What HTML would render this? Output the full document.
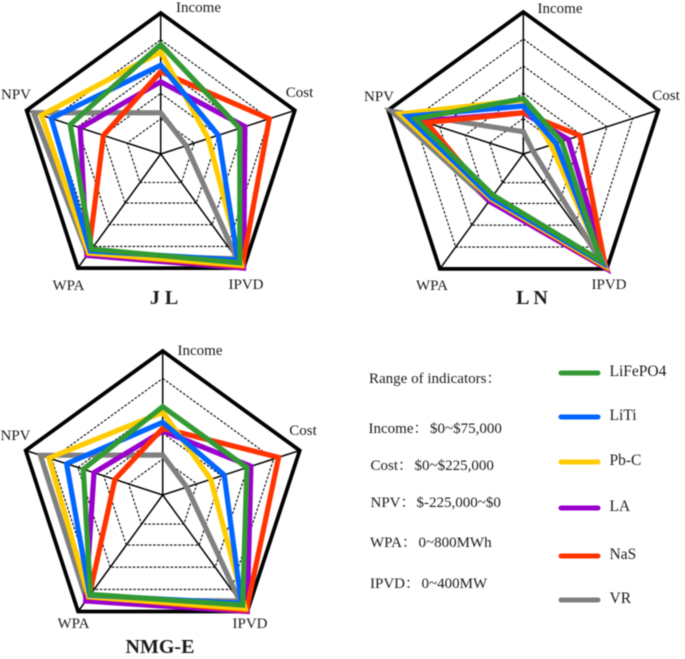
<!DOCTYPE html>
<html lang="en">
<head>
<meta charset="utf-8">
<title>Radar charts of storage technologies</title>
<style>
html,body{margin:0;padding:0;background:#fff;width:685px;height:659px;overflow:hidden}
svg{display:block;filter:blur(0.45px)}
text{font-family:"Liberation Serif","Noto Serif CJK SC",serif;fill:#1a1a1a}
</style>
</head>
<body>
<svg id="root" xmlns="http://www.w3.org/2000/svg" width="685" height="659" viewBox="0 0 685 659">
  <g id="panels"></g>
  <g font-size="15">
    <text x="369" y="383">Range of indicators：</text>
    <text x="368.5" y="433">Income：<tspan dx="1.5">$0~$75,000</tspan></text>
    <text x="370.5" y="470">Cost：<tspan dx="1.5">$0~$225,000</tspan></text>
    <text x="370.5" y="507">NPV：<tspan dx="1">$-225,000~$0</tspan></text>
    <text x="370" y="547">WPA：<tspan dx="1.5">0~800MWh</tspan></text>
    <text x="370" y="588">IPVD：<tspan dx="1.5">0~400MW</tspan></text>
  </g>
  <g id="legend"></g>
</svg>
<script>
// Axis order, clockwise from the top
const axes = ['Income', 'Cost', 'IPVD', 'WPA', 'NPV'];
const ringLevels = [0.25, 0.43, 0.62, 0.81];

// Normalised scores per axis [Income, Cost, IPVD, WPA, NPV]
const jlLiFePO4 = [0.776, 0.59, 0.955, 0.834, 0.675];
const jlLiTi    = [0.63, 0.43, 0.93, 0.85, 0.816];
const jlPbC     = [0.724, 0.355, 0.975, 0.87, 0.89];
const jlLA      = [0.512, 0.628, 1.0, 0.89, 0.60];
const jlNaS     = [0.583, 0.81, 0.985, 0.87, 0.427];
const jlVR      = [0.292, 0.19, 0.92, 0.88, 0.948];

const lnLiFePO4 = [0.39, 0.284, 0.93, 0.36, 0.80];
const lnLiTi    = [0.338, 0.242, 0.95, 0.38, 0.86];
const lnPbC     = [0.38, 0.205, 0.97, 0.39, 0.914];
const lnLA      = [0.29, 0.333, 1.0, 0.41, 0.753];
const lnNaS     = [0.29, 0.42, 0.985, 0.39, 0.716];
const lnVR      = [0.157, 0.07, 0.92, 0.41, 0.975];

const nmLiFePO4 = [0.613, 0.615, 0.945, 0.853, 0.58];
const nmLiTi    = [0.505, 0.449, 0.93, 0.86, 0.702];
const nmPbC     = [0.574, 0.351, 0.975, 0.875, 0.83];
const nmLA      = [0.444, 0.644, 1.0, 0.91, 0.502];
const nmNaS     = [0.463, 0.846, 0.99, 0.87, 0.349];
const nmVR      = [0.278, 0.176, 0.91, 0.90, 0.893];

const panels = [
  {key:'jl', title:'J L', cx:160.7, cy:154, r:141, tx:164, ty:304,
   series:{LiFePO4:jlLiFePO4, LiTi:jlLiTi, PbC:jlPbC, LA:jlLA, NaS:jlNaS, VR:jlVR},
   lab:[[198.5,12],[299.5,97],[246,289],[68.5,290],[16,99]]},
  {key:'ln', title:'L N', cx:523.3, cy:154, r:142, tx:532, ty:304,
   series:{LiFePO4:lnLiFePO4, LiTi:lnLiTi, PbC:lnPbC, LA:lnLA, NaS:lnNaS, VR:lnVR},
   lab:[[560,13],[666,100],[609,289],[432,290],[379,101]]},
  {key:'nmg-e', title:'NMG-E', cx:162.7, cy:495, r:144, tx:160, ty:653,
   series:{LiFePO4:nmLiFePO4, LiTi:nmLiTi, PbC:nmPbC, LA:nmLA, NaS:nmNaS, VR:nmVR},
   lab:[[200,355],[303,435],[250,628],[73.5,628],[15.5,440]]}
];

const legendNames = ['LiFePO4', 'LiTi', 'Pb-C', 'LA', 'NaS', 'VR'];
const seriesKeys = ['LiFePO4', 'LiTi', 'PbC', 'LA', 'NaS', 'VR'];
const seriesColors = ['#339933', '#0066ff', '#ffcc00', '#9900cc', '#ff3300', '#808080'];
const drawOrder = ['VR', 'LA', 'NaS', 'PbC', 'LiTi', 'LiFePO4'];

const NS = 'http://www.w3.org/2000/svg';
function make(tag, attrs, parent) {
  const el = document.createElementNS(NS, tag);
  for (const k in attrs) el.setAttribute(k, attrs[k]);
  parent.appendChild(el);
  return el;
}
function angleOf(i) { return -Math.PI / 2 + i * 2 * Math.PI / axes.length; }
function pt(p, i, v) {
  const a = angleOf(i);
  return [p.cx + p.r * v * Math.cos(a), p.cy + p.r * v * Math.sin(a)];
}
function ringPoints(p, values) {
  return values.map((v, i) => pt(p, i, v).map(n => n.toFixed(1)).join(',')).join(' ');
}

const panelRoot = document.getElementById('panels');
panels.forEach(p => {
  const g = make('g', {}, panelRoot);
  
  

  ringLevels.forEach(l => {
    const ring = make('polygon', {points: ringPoints(p, axes.map(() => l)), fill: 'none', stroke: '#000', 'stroke-width': 1.1, 'stroke-dasharray': '2.6 1.6'}, g);
    
    
  });

  axes.forEach((name, i) => {
    const e = pt(p, i, 1);
    const spoke = make('line', {x1: p.cx, y1: p.cy, x2: e[0], y2: e[1], stroke: '#000', 'stroke-width': 1.5}, g);
    
    
  });

  const outer = make('polygon', {points: ringPoints(p, axes.map(() => 1)), fill: 'none', stroke: '#000', 'stroke-width': 3.8, 'stroke-linejoin': 'miter'}, g);
  
  

  drawOrder.forEach(key => {
    const idx = seriesKeys.indexOf(key);
    const line = make('polygon', {points: ringPoints(p, p.series[key]), fill: 'none', stroke: seriesColors[idx], 'stroke-width': 5.2, 'stroke-linejoin': 'miter'}, g);
    
    
  });

  axes.forEach((name, i) => {
    const t = make('text', {x: p.lab[i][0], y: p.lab[i][1], 'font-size': 15, 'text-anchor': 'middle'}, g);
    t.textContent = name;
    
    
  });

  const title = make('text', {x: p.tx, y: p.ty, 'font-size': 20, 'font-weight': 'bold', 'text-anchor': 'middle'}, g);
  title.textContent = p.title;
  
  
});

const legendRows = [373, 417, 462, 508, 556, 600];
const legendRoot = document.getElementById('legend');
legendNames.forEach((name, i) => {
  const row = make('g', {}, legendRoot);
  
  
  make('line', {x1: 561, y1: legendRows[i], x2: 598, y2: legendRows[i], stroke: seriesColors[i], 'stroke-width': 5, 'stroke-linecap': 'round'}, row);
  const t = make('text', {x: 609.5, y: legendRows[i] + 3, 'font-size': 15.5}, row);
  t.textContent = name;
});
</script>
</body>
</html>
